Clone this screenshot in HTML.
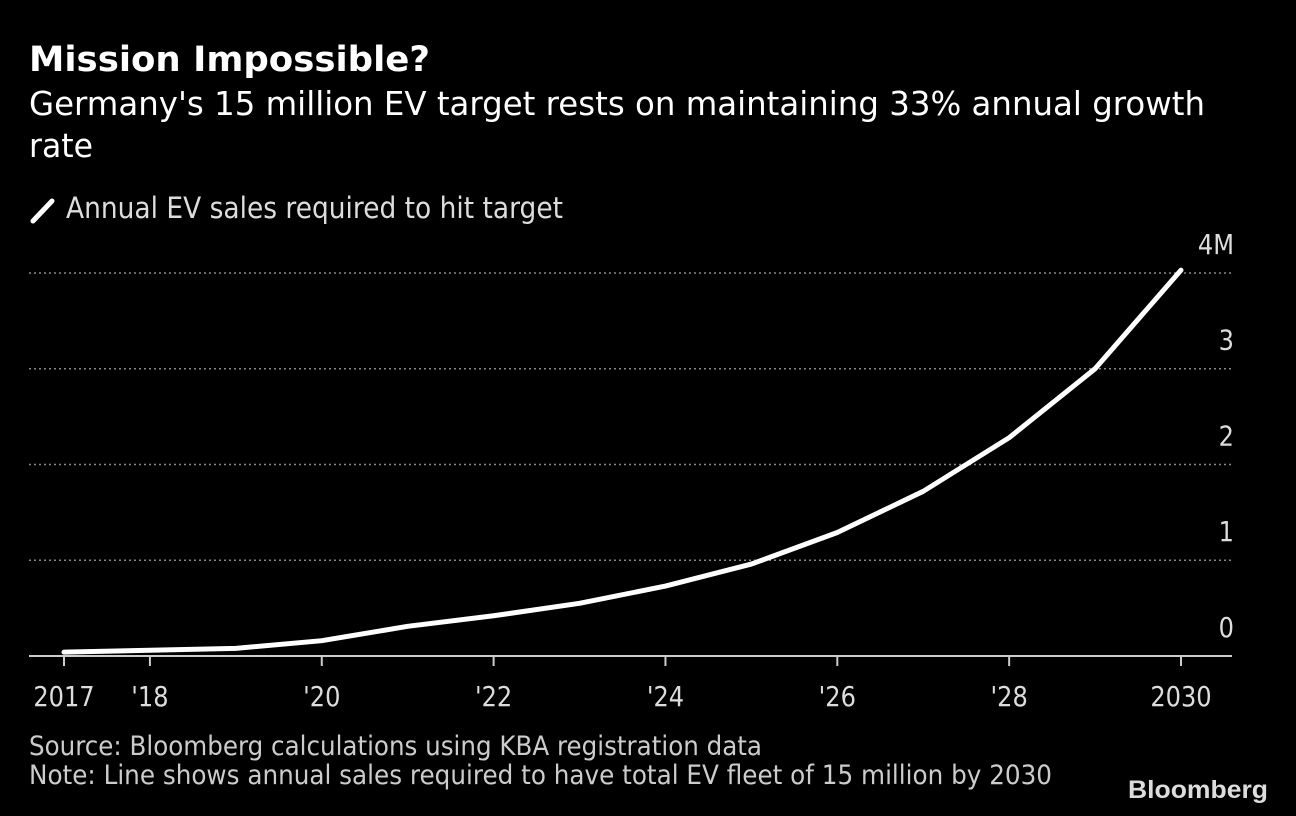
<!DOCTYPE html>
<html><head><meta charset="utf-8"><style>
body{margin:0;background:#000;width:1296px;height:816px;overflow:hidden;font-family:"DejaVu Sans","Liberation Sans",sans-serif;color:#fff}
.t{position:absolute;white-space:nowrap;transform-origin:0 0}
</style></head><body>
<div class="t fit" data-w="401" style="left:29px;top:40px;font-size:35px;font-weight:bold">Mission Impossible?</div>
<div class="t fit" data-w="1176" style="left:29px;top:84px;font-size:33px">Germany's 15 million EV target rests on maintaining 33% annual growth</div>
<div class="t fit" data-w="64" style="left:29px;top:126px;font-size:33px">rate</div>
<svg width="30" height="30" style="position:absolute;left:29px;top:196px"><line x1="4" y1="25" x2="23" y2="5" stroke="#fff" stroke-width="5" stroke-linecap="round"/></svg>
<div class="t fit" data-w="497" style="left:66px;top:191px;font-size:29px;color:#ddd">Annual EV sales required to hit target</div>
<svg id="c" width="1296" height="816" style="position:absolute;left:0;top:0"></svg>
<div class="t fit" data-w="733" style="left:29px;top:731px;font-size:27px;color:#ccc">Source: Bloomberg calculations using KBA registration data</div>
<div class="t fit" data-w="1023" style="left:29px;top:760px;font-size:27px;color:#ccc">Note: Line shows annual sales required to have total EV fleet of 15 million by 2030</div>
<div class="t fit" data-w="140" style="left:1128px;top:776px;font-size:25px;font-weight:bold;color:#ddd;font-family:'Liberation Sans',sans-serif">Bloomberg</div>
<script>
document.querySelectorAll('.fit').forEach(e=>{const w=e.getBoundingClientRect().width;const s=(+e.dataset.w)/w;e.style.transform='scaleX('+s+')';});
const years=[2017,2018,2019,2020,2021,2022,2023,2024,2025,2026,2027,2028,2029,2030];
const sales=[0.04,0.06,0.08,0.16,0.31,0.42,0.55,0.73,0.96,1.29,1.72,2.28,3.0,4.03];
const yTicks=[0,1,2,3,4];
const yTickLabels=["0","1","2","3","4M"];
const xTicks=[2017,2018,2020,2022,2024,2026,2028,2030];
const xTickLabels=["2017","'18","'20","'22","'24","'26","'28","2030"];
const svg=document.getElementById('c');const NS='http://www.w3.org/2000/svg';
const x=v=>64+(v-2017)*(1181-64)/13;
const y=v=>656-v*95.75;
const SX=0.86;
function mk(t,a){const e=document.createElementNS(NS,t);for(const k in a)e.setAttribute(k,a[k]);svg.appendChild(e);return e;}
function txt(px,py,anchor,s){const t=mk('text',{x:px/SX,y:py,'text-anchor':anchor,'font-size':28,fill:'#ddd','font-family':'DejaVu Sans, sans-serif',transform:'scale('+SX+',1)'});t.textContent=s;return t;}
yTicks.forEach((v,i)=>{
 if(v>0){const g=mk('line',{x1:29,x2:1232,y1:y(v),y2:y(v),stroke:'#888','stroke-width':1.5,'stroke-dasharray':'2,3'});
 
 }
 const t=txt(1234,y(v)-19,'end',yTickLabels[i]);
 
 
});
const ax=mk('line',{x1:29,x2:1232,y1:656,y2:656,stroke:'#ccc','stroke-width':2});


xTicks.forEach((v,i)=>{
 const tk=mk('line',{x1:x(v),x2:x(v),y1:656,y2:666,stroke:'#ccc','stroke-width':2});
 
 
 const t=txt(x(v),706,'middle',xTickLabels[i]);
 
 
});
const p=mk('polyline',{points:years.map((yr,i)=>x(yr)+','+y(sales[i])).join(' '),fill:'none',stroke:'#fff','stroke-width':5,'stroke-linejoin':'round','stroke-linecap':'round'});


</script>
</body></html>
